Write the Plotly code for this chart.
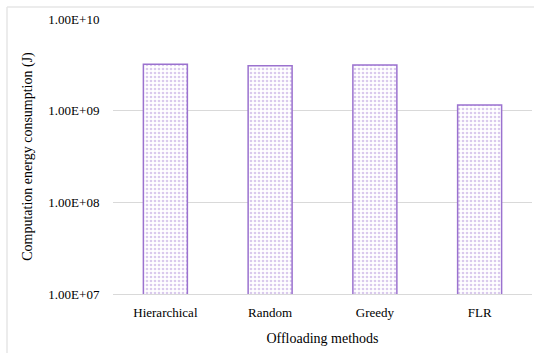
import plotly.graph_objects as go

# Offloading methods and their computation energy consumption (J)
methods = ["Hierarchical", "Random", "Greedy", "FLR"]
energy_j = [3.2e9, 3.1e9, 3.15e9, 1.15e9]
y_tick_vals = [1e7, 1e8, 1e9, 1e10]
y_tick_text = ["1.00E+07", "1.00E+08", "1.00E+09", "1.00E+10"]

font_family = "Liberation Serif"
grid_color = "#d9d9d9"
bar_line = "#9b72cf"

fig = go.Figure(
    go.Bar(
        x=methods,
        y=energy_j,
        width=0.42,
        marker=dict(
            color="white",
            line=dict(color=bar_line, width=1.5),
            pattern=dict(shape=".", fgcolor="#b596dc", bgcolor="white",
                         size=4, solidity=0.35),
        ),
    )
)

fig.update_layout(
    width=534,
    height=353,
    margin=dict(l=113, r=2, t=19, b=59),
    paper_bgcolor="white",
    plot_bgcolor="white",
    showlegend=False,
    font=dict(family=font_family, size=13, color="#000000"),
    xaxis=dict(
        title=dict(text="Offloading methods", font=dict(size=14), standoff=14),
        showgrid=False,
        showline=True,
        linecolor=grid_color,
        linewidth=1,
        ticks="",
        ticklabelstandoff=6,
        tickfont=dict(size=13),
    ),
    yaxis=dict(
        type="log",
        range=[7, 10],
        tickvals=y_tick_vals,
        ticktext=y_tick_text,
        showgrid=True,
        gridcolor=grid_color,
        gridwidth=1,
        zeroline=False,
        ticks="outside",
        ticklen=10,
        tickcolor="rgba(0,0,0,0)",
        title=dict(text="Computation energy consumption (J)", font=dict(size=14), standoff=12),
        tickfont=dict(size=13),
    ),
    shapes=[
        # chart frame
        dict(type="line", xref="paper", yref="paper",
             x0=(7 - 113) / 419, x1=(7 - 113) / 419,
             y0=-(353 - 294) / 275 - 0.1, y1=1 + 12 / 275,
             line=dict(color=grid_color, width=1)),
        dict(type="line", xref="paper", yref="paper",
             x0=(7 - 113) / 419, x1=1.05,
             y0=1 + 12 / 275, y1=1 + 12 / 275,
             line=dict(color="#e6e6e6", width=1.5)),
    ],
)

fig.write_html("out.html")
